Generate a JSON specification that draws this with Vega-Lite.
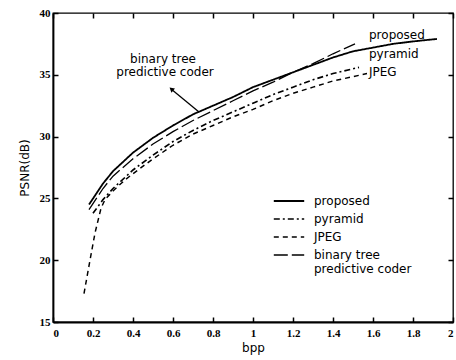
{
  "$schema": "https://vega.github.io/schema/vega-lite/v6.json",
  "width": 400,
  "height": 309,
  "autosize": {"type": "none"},
  "padding": {"left": 53, "top": 13, "right": 3, "bottom": 38},
  "background": "white",
  "config": {
    "view": {"stroke": "black", "strokeWidth": 1.3},
    "axis": {
      "domainColor": "black", "domainWidth": 1.8, "tickColor": "black", "tickWidth": 1.5, "ticks": true,
      "labelFont": "Liberation Serif", "labelFontWeight": "bold", "labelFontSize": 11, "labelColor": "black",
      "titleFont": "DejaVu Sans", "titleFontWeight": "normal", "titleFontSize": 12, "titleColor": "#000000",
      "grid": false
    },
    "legend": {
      "labelFont": "DejaVu Sans", "labelFontSize": 12, "labelColor": "black"
    }
  },
  "datasets": {
    "curves": [
      {"series": "proposed", "bpp": 0.18, "psnr": 24.5},
      {"series": "proposed", "bpp": 0.25, "psnr": 26.2},
      {"series": "proposed", "bpp": 0.3, "psnr": 27.2},
      {"series": "proposed", "bpp": 0.4, "psnr": 28.7},
      {"series": "proposed", "bpp": 0.5, "psnr": 29.9},
      {"series": "proposed", "bpp": 0.6, "psnr": 30.9},
      {"series": "proposed", "bpp": 0.7, "psnr": 31.8},
      {"series": "proposed", "bpp": 0.8, "psnr": 32.5},
      {"series": "proposed", "bpp": 0.9, "psnr": 33.2},
      {"series": "proposed", "bpp": 1.0, "psnr": 34.0},
      {"series": "proposed", "bpp": 1.1, "psnr": 34.6},
      {"series": "proposed", "bpp": 1.2, "psnr": 35.2},
      {"series": "proposed", "bpp": 1.3, "psnr": 35.8},
      {"series": "proposed", "bpp": 1.4, "psnr": 36.4},
      {"series": "proposed", "bpp": 1.5, "psnr": 36.9},
      {"series": "proposed", "bpp": 1.6, "psnr": 37.2},
      {"series": "proposed", "bpp": 1.7, "psnr": 37.5},
      {"series": "proposed", "bpp": 1.8, "psnr": 37.7},
      {"series": "proposed", "bpp": 1.92, "psnr": 37.9},
      {"series": "pyramid", "bpp": 0.2, "psnr": 23.8},
      {"series": "pyramid", "bpp": 0.25, "psnr": 24.9},
      {"series": "pyramid", "bpp": 0.3, "psnr": 25.8},
      {"series": "pyramid", "bpp": 0.4, "psnr": 27.3},
      {"series": "pyramid", "bpp": 0.5, "psnr": 28.5},
      {"series": "pyramid", "bpp": 0.6, "psnr": 29.6},
      {"series": "pyramid", "bpp": 0.7, "psnr": 30.5},
      {"series": "pyramid", "bpp": 0.8, "psnr": 31.3},
      {"series": "pyramid", "bpp": 0.9, "psnr": 32.0},
      {"series": "pyramid", "bpp": 1.0, "psnr": 32.7},
      {"series": "pyramid", "bpp": 1.1, "psnr": 33.4},
      {"series": "pyramid", "bpp": 1.2, "psnr": 34.0},
      {"series": "pyramid", "bpp": 1.3, "psnr": 34.6},
      {"series": "pyramid", "bpp": 1.4, "psnr": 35.1},
      {"series": "pyramid", "bpp": 1.53, "psnr": 35.6},
      {"series": "JPEG", "bpp": 0.155, "psnr": 17.3},
      {"series": "JPEG", "bpp": 0.185, "psnr": 20.0},
      {"series": "JPEG", "bpp": 0.21, "psnr": 22.2},
      {"series": "JPEG", "bpp": 0.24, "psnr": 24.2},
      {"series": "JPEG", "bpp": 0.26, "psnr": 24.9},
      {"series": "JPEG", "bpp": 0.3, "psnr": 25.6},
      {"series": "JPEG", "bpp": 0.36, "psnr": 26.5},
      {"series": "JPEG", "bpp": 0.4, "psnr": 27.0},
      {"series": "JPEG", "bpp": 0.5, "psnr": 28.2},
      {"series": "JPEG", "bpp": 0.6, "psnr": 29.3},
      {"series": "JPEG", "bpp": 0.7, "psnr": 30.2},
      {"series": "JPEG", "bpp": 0.8, "psnr": 30.9},
      {"series": "JPEG", "bpp": 0.9, "psnr": 31.6},
      {"series": "JPEG", "bpp": 1.0, "psnr": 32.2},
      {"series": "JPEG", "bpp": 1.1, "psnr": 32.9},
      {"series": "JPEG", "bpp": 1.2, "psnr": 33.5},
      {"series": "JPEG", "bpp": 1.3, "psnr": 34.0},
      {"series": "JPEG", "bpp": 1.4, "psnr": 34.5},
      {"series": "JPEG", "bpp": 1.57, "psnr": 35.1},
      {"series": "binary tree predictive coder", "bpp": 0.18, "psnr": 24.1},
      {"series": "binary tree predictive coder", "bpp": 0.25, "psnr": 25.8},
      {"series": "binary tree predictive coder", "bpp": 0.3, "psnr": 26.8},
      {"series": "binary tree predictive coder", "bpp": 0.4, "psnr": 28.2},
      {"series": "binary tree predictive coder", "bpp": 0.5, "psnr": 29.4},
      {"series": "binary tree predictive coder", "bpp": 0.6, "psnr": 30.4},
      {"series": "binary tree predictive coder", "bpp": 0.7, "psnr": 31.3},
      {"series": "binary tree predictive coder", "bpp": 0.8, "psnr": 32.1},
      {"series": "binary tree predictive coder", "bpp": 0.9, "psnr": 32.9},
      {"series": "binary tree predictive coder", "bpp": 1.0, "psnr": 33.7},
      {"series": "binary tree predictive coder", "bpp": 1.1, "psnr": 34.4},
      {"series": "binary tree predictive coder", "bpp": 1.2, "psnr": 35.2},
      {"series": "binary tree predictive coder", "bpp": 1.3, "psnr": 35.9},
      {"series": "binary tree predictive coder", "bpp": 1.4, "psnr": 36.7},
      {"series": "binary tree predictive coder", "bpp": 1.51, "psnr": 37.5}
    ],
    "endLabels": [
      {"label": "proposed", "bpp": 1.58, "psnr": 38.2},
      {"label": "pyramid", "bpp": 1.58, "psnr": 36.7},
      {"label": "JPEG", "bpp": 1.58, "psnr": 35.2}
    ],
    "note": [
      {"label": "binary tree", "bpp": 0.55, "psnr": 36.3},
      {"label": "predictive coder", "bpp": 0.56, "psnr": 35.2}
    ],
    "arrow": [
      {"bpp": 0.73, "psnr": 32.0, "bpp2": 0.595, "psnr2": 33.8}
    ]
  },
  "layer": [
    {
      "data": {"name": "curves"},
      "mark": {"type": "line", "color": "black", "clip": true},
      "encoding": {
        "x": {
          "field": "bpp", "type": "quantitative",
          "scale": {"domain": [0, 2], "nice": false, "zero": false},
          "axis": {"values": [0, 0.2, 0.4, 0.6, 0.8, 1, 1.2, 1.4, 1.6, 1.8, 2], "format": "~g", "title": "bpp", "tickSize": -5, "labelPadding": 10, "titlePadding": 4}
        },
        "y": {
          "field": "psnr", "type": "quantitative",
          "scale": {"domain": [15, 40], "nice": false, "zero": false},
          "axis": {"values": [15, 20, 25, 30, 35, 40], "title": "PSNR(dB)", "tickSize": -5, "labelPadding": 8, "titlePadding": 8}
        },
        "strokeDash": {
          "field": "series", "type": "nominal",
          "scale": {
            "domain": ["proposed", "pyramid", "JPEG", "binary tree predictive coder"],
            "range": [[1, 0], [6, 3, 2, 3], [5, 4], [14, 4]]
          },
          "legend": {
            "title": null, "orient": "none", "legendX": 227, "legendY": 179,
            "symbolType": "M-1.9,0H1.9", "symbolSize": 256, "symbolStrokeWidth": 1.3, "symbolStrokeColor": "black",
            "labelOffset": 16, "rowPadding": 3, "padding": 0,
            "labelExpr": "datum.label == 'binary tree predictive coder' ? ['binary tree', 'predictive coder'] : datum.label"
          }
        },
        "strokeWidth": {
          "field": "series", "type": "nominal",
          "scale": {
            "domain": ["proposed", "pyramid", "JPEG", "binary tree predictive coder"],
            "range": [1.8, 1.3, 1.4, 1.4]
          },
          "legend": null
        }
      }
    },
    {
      "data": {"name": "endLabels"},
      "mark": {"type": "text", "align": "left", "baseline": "middle", "font": "DejaVu Sans", "fontSize": 12, "color": "black"},
      "encoding": {
        "x": {"field": "bpp", "type": "quantitative", "axis": null},
        "y": {"field": "psnr", "type": "quantitative", "axis": null},
        "text": {"field": "label"}
      }
    },
    {
      "data": {"name": "note"},
      "mark": {"type": "text", "align": "center", "baseline": "middle", "font": "DejaVu Sans", "fontSize": 12, "color": "black"},
      "encoding": {
        "x": {"field": "bpp", "type": "quantitative", "axis": null},
        "y": {"field": "psnr", "type": "quantitative", "axis": null},
        "text": {"field": "label"}
      }
    },
    {
      "data": {"name": "arrow"},
      "mark": {"type": "rule", "color": "black", "strokeWidth": 1.3},
      "encoding": {
        "x": {"field": "bpp", "type": "quantitative", "axis": null},
        "y": {"field": "psnr", "type": "quantitative", "axis": null},
        "x2": {"field": "bpp2"},
        "y2": {"field": "psnr2"}
      }
    },
    {
      "data": {"name": "arrow"},
      "mark": {"type": "point", "shape": "triangle", "angle": 310, "size": 30, "filled": true, "color": "black", "opacity": 1},
      "encoding": {
        "x": {"field": "bpp2", "type": "quantitative", "axis": null},
        "y": {"field": "psnr2", "type": "quantitative", "axis": null}
      }
    },
    {
      "data": {"name": "arrow"},
      "mark": {"type": "point", "opacity": 0},
      "encoding": {
        "x": {"field": "bpp", "type": "quantitative", "axis": {"orient": "top", "values": [0, 0.2, 0.4, 0.6, 0.8, 1, 1.2, 1.4, 1.6, 1.8, 2], "labels": false, "title": null, "domain": false, "tickSize": -5}},
        "y": {"field": "psnr", "type": "quantitative", "axis": {"orient": "right", "values": [15, 20, 25, 30, 35, 40], "labels": false, "title": null, "domain": false, "tickSize": -5}}
      }
    }
  ],
  "resolve": {"axis": {"x": "independent", "y": "independent"}}
}
